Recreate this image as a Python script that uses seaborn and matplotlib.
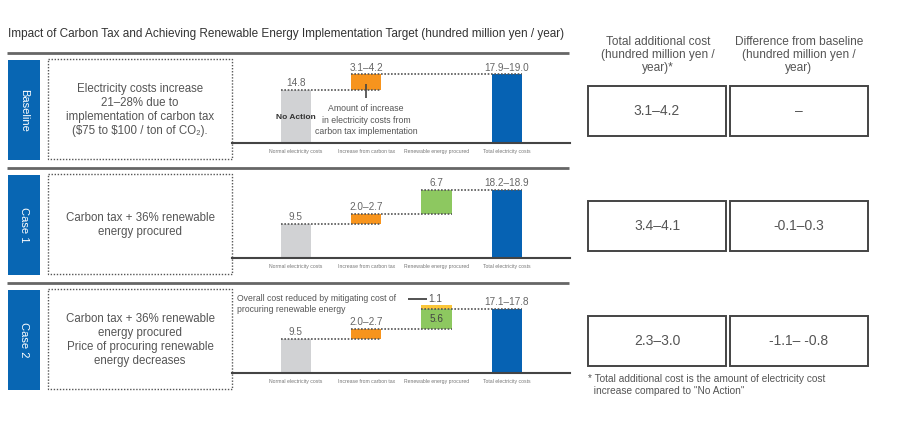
import matplotlib
matplotlib.use("Agg")
import matplotlib.pyplot as plt
import seaborn as sns
from matplotlib.patches import Rectangle

# ---- data ----
title = "Impact of Carbon Tax and Achieving Renewable Energy Implementation Target (hundred million yen / year)"
case_names = ["Baseline", "Case 1", "Case 2"]
descriptions = [
    "Electricity costs increase\n21–28% due to\nimplementation of carbon tax\n(\\$75 to \\$100 / ton of CO₂).",
    "Carbon tax + 36% renewable\nenergy procured",
    "Carbon tax + 36% renewable\nenergy procured\nPrice of procuring renewable\nenergy decreases",
]
categories = ["Normal electricity costs", "Increase from carbon tax",
              "Renewable energy procured", "Total electricity costs"]

baseline_bottom = [0, 14.8, 0, 0]
baseline_height = [14.8, 4.2, 0, 19.0]
baseline_labels = ["14.8", "3.1–4.2", "", "17.9–19.0"]

case1_bottom = [0, 9.5, 12.2, 0]
case1_height = [9.5, 2.7, 6.7, 18.9]
case1_labels = ["9.5", "2.0–2.7", "6.7", "18.2–18.9"]

case2_bottom = [0, 9.5, 12.2, 0]
case2_height = [9.5, 2.7, 5.6, 17.8]
case2_labels = ["9.5", "2.0–2.7", "5.6", "17.1–17.8"]
case2_reduction = 1.1

header_total = "Total additional cost\n(hundred million yen /\nyear)*"
header_diff = "Difference from baseline\n(hundred million yen /\nyear)"
total_cost = ["3.1–4.2", "3.4–4.1", "2.3–3.0"]
diff_baseline = ["–", "-0.1–0.3", "-1.1– -0.8"]
footnote = "* Total additional cost is the amount of electricity cost\n  increase compared to \"No Action\""

bar_colors = ["#d1d2d4", "#f7941d", "#8dc860", "#0662b3"]
reduce_color = "#fbc63a"
blue = "#0866b3"
txt = "#555555"

sns.set_style("white")
plt.rcParams["font.family"] = ["Liberation Sans", "DejaVu Sans"]

fig = plt.figure(figsize=(9, 4.3), dpi=100)
bg = fig.add_axes([0, 0, 1, 1])
bg.set_xlim(0, 900)
bg.set_ylim(430, 0)
bg.axis("off")

bg.text(8, 34, title, fontsize=8.5, color="#333333", va="center", ha="left")

panel_tops = [60, 175, 290]
sep_y = [53, 168, 283]
for y in sep_y:
    bg.plot([7, 569], [y, y], color="#666666", lw=2, solid_capstyle="butt")

for i, top in enumerate(panel_tops):
    bg.add_patch(Rectangle((8, top), 32, 100, color=blue, lw=0))
    bg.text(24, top + 50, case_names[i], rotation=-90, color="white",
            fontsize=8, ha="center", va="center")
    bg.add_patch(Rectangle((48, top - 1), 184, 100, fill=False, ec="#555555",
                           lw=1, ls=(0, (1, 1.2))))
    bg.text(140, top + 50, descriptions[i], fontsize=8.3, color=txt,
            ha="center", va="center", linespacing=1.25)
    # table boxes
    for x0, val in [(588, total_cost[i]), (730, diff_baseline[i])]:
        bg.add_patch(Rectangle((x0, top + 26), 138, 50, fill=False,
                               ec="#444444", lw=1.4))
        bg.text(x0 + 69, top + 51, val, fontsize=10, color=txt,
                ha="center", va="center")

bg.text(658, 55, header_total, fontsize=8.6, color=txt, ha="center",
        va="center", linespacing=1.15)
bg.text(799, 55, header_diff, fontsize=8.6, color=txt, ha="center",
        va="center", linespacing=1.15)
bg.text(588, 385, footnote, fontsize=7.3, color=txt, ha="left",
        va="center", linespacing=1.25)

# ---- waterfall panels ----
panels = [
    (baseline_bottom, baseline_height, baseline_labels),
    (case1_bottom, case1_height, case1_labels),
    (case2_bottom, case2_height, case2_labels),
]
base_px = [143.3, 258.3, 373.3]
ymax = 23
bar_w = 0.43

axes = []
for k, (bottoms, heights, labels) in enumerate(panels):
    ax = fig.add_axes([232 / 900, 1 - base_px[k] / 430, 338 / 900, 83.5 / 430])
    ax.patch.set_alpha(0)
    sns.barplot(x=categories, y=heights, bottom=bottoms, color=bar_colors[0],
                width=bar_w, errorbar=None, saturation=1, linewidth=0, ax=ax)
    for patch, c in zip(ax.patches, bar_colors):
        patch.set_facecolor(c)
    ax.set_xlim(-0.91, 3.9)
    ax.set_ylim(0, ymax)
    ax.set_yticks([])
    ax.set_xlabel("")
    ax.set_ylabel("")
    for s in ["left", "right", "top"]:
        ax.spines[s].set_visible(False)
    ax.spines["bottom"].set_color("#444444")
    ax.spines["bottom"].set_linewidth(1.5)
    ax.tick_params(axis="x", length=0, pad=4, labelsize=3.7, labelcolor="#777777")

    tops = [b + h for b, h in zip(bottoms, heights)]
    # dotted connectors
    for i in range(3):
        if heights[i] <= 0:
            continue
        j = next(n for n in range(i + 1, 4) if heights[n] > 0)
        ax.hlines(tops[i], i - bar_w / 2, j + bar_w / 2, color="#555555",
                  lw=1.2, ls=(0, (1, 1)), zorder=5)
    # value labels
    for i, lab in enumerate(labels):
        if not lab:
            continue
        if k == 2 and i == 2:
            ax.text(i, bottoms[i] + heights[i] / 2, lab, fontsize=7.2, color="#444444",
                    ha="center", va="center", zorder=6)
        else:
            ax.text(i, tops[i] + 1.8, lab, fontsize=7.2, color="#666666",
                    ha="center", va="center", clip_on=False)
    axes.append(ax)

# baseline annotations
ax0 = axes[0]
ax0.text(0, 7.2, "No Action", fontsize=6, fontweight="bold", color="#333333",
         ha="center", va="center")
ax0.vlines(1, 12.6, 16.2, color="#444444", lw=1.2, zorder=6)
ax0.text(1, 6.4, "Amount of increase\nin electricity costs from\ncarbon tax implementation",
         fontsize=6.3, color="#555555", ha="center", va="center", linespacing=1.35)

# case 2: reduced cost segment
ax2 = axes[2]
ax2.bar(2, case2_reduction, bottom=case2_bottom[2] + case2_height[2],
        width=bar_w, color=reduce_color, lw=0)
ax2.text(-0.835, 19.1, "Overall cost reduced by mitigating cost of\nprocuring renewable energy",
         fontsize=6.2, color="#555555", ha="left", va="center", linespacing=1.3)
ax2.hlines(20.55, 1.59, 1.86, color="#444444", lw=1.3)
ax2.text(1.89, 20.55, f"{case2_reduction}", fontsize=7.2, color="#555555",
         ha="left", va="center")

fig.savefig("out.png", dpi=100)
